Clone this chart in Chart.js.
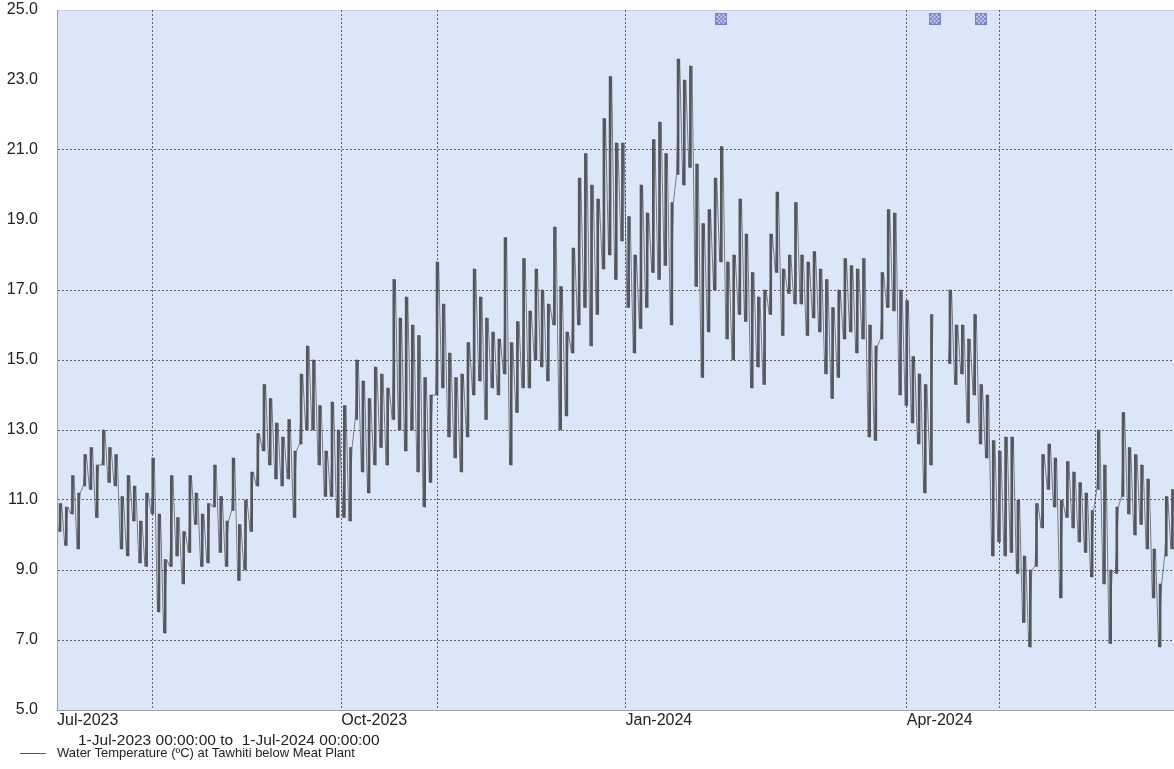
<!DOCTYPE html>
<html lang="en">
<head>
  <meta charset="UTF-8">
  <title>Water Temperature at Tawhiti below Meat Plant</title>
  <script src="https://cdn.jsdelivr.net/npm/chart.js"></script>
  <style>
    body { margin: 0; background: #fff; font-family: Arial, "Liberation Sans", sans-serif; }
    #wrap { position: relative; width: 1174px; height: 769px; overflow: hidden; }
    #chart { position: absolute; left: 0; top: 0; }
    .note { position: absolute; color: #222; white-space: pre; }
    .legline { display: inline-block; width: 26px; height: 0; border-top: 1px solid #555; vertical-align: middle; margin-right: 11px; }
  </style>
</head>
<body>
  <div id="wrap">
    <canvas id="chart" width="1174" height="769"></canvas>
    <div class="note" style="left:78px; top:731px; font-size:15.5px; line-height:18px;">1-Jul-2023 00:00:00 to  1-Jul-2024 00:00:00</div>
    <div class="note" style="left:20px; top:745px; font-size:13px; line-height:16px;"><span class="legline"></span>Water Temperature (ºC) at Tawhiti below Meat Plant</div>
  </div>

  <script>
    // days counted from 1-Jul-2023, each bin covers 2 days (low / high within it)
    const startDay = 0;
    const binDays = 2;
    const binLow = [
      10.1, 9.7, 10.6, 9.6, 11.4, 11.3, 10.5, 12.0, 11.5, 11.4,
      9.6, 9.4, 10.4, 9.2, 9.1, 10.6, 7.8, 7.2, 9.1, 9.4,
      8.6, 9.5, 10.3, 9.1, 9.2, 10.8, 9.5, 9.1, 10.7, 8.7,
      9.0, 10.1, 11.4, 12.4, 12.0, 11.6, 11.4, 11.6, 10.5, 12.6,
      13.0, 13.0, 12.0, 11.1, 11.1, 10.5, 10.5, 10.4, 13.3, 11.8,
      11.2, 12.0, 12.5, 12.0, 13.3, 13.0, 12.4, 13.0, 11.8, 10.8,
      11.5, 14.0, 14.2, 12.8, 12.2, 11.8, 12.8, 14.0, 14.4, 13.3,
      14.2, 14.0, 14.6, 12.0, 13.5, 14.2, 14.2, 15.0, 14.8, 14.4,
      16.0, 13.0, 13.4, 15.2, 16.0, 16.5, 15.4, 16.3, 17.6, 18.0,
      17.3, 18.4, 16.5, 15.2, 15.9, 16.5, 17.5, 17.3, 17.7, 16.0,
      20.3, 20.0, 20.5, 17.1, 14.5, 15.8, 17.0, 17.8, 15.6, 15.0,
      16.3, 16.1, 14.2, 14.8, 14.3, 16.3, 17.5, 15.7, 16.9, 16.6,
      16.6, 15.7, 16.2, 15.8, 14.6, 13.9, 14.5, 15.6, 15.8, 15.2,
      15.6, 12.8, 12.7, 15.6, 16.5, 16.4, 14.0, 13.7, 13.2, 12.6,
      11.2, 12.0, null, null, 14.9, 14.3, 14.6, 13.2, 14.0, 12.6,
      12.2, 9.4, 9.8, 9.4, 9.5, 8.9, 7.5, 6.8, 9.1, 10.2,
      11.3, 10.8, 8.2, 10.5, 10.2, 9.8, 9.5, 8.8, 11.3, 8.6,
      6.9, 8.9, 11.1, 10.6, 10.0, 10.3, 9.6, 8.2, 6.8, 9.4,
      9.6
    ];
    const binHigh = [
      10.9, 10.8, 11.7, 11.2, 12.3, 12.5, 12.0, 13.0, 12.5, 12.3,
      11.1, 11.7, 11.4, 10.4, 11.2, 12.2, 10.6, 9.3, 11.7, 10.5,
      10.1, 11.7, 11.2, 10.6, 10.9, 12.0, 11.1, 10.4, 12.2, 10.3,
      11.0, 11.8, 12.9, 14.3, 13.9, 13.2, 12.8, 13.3, 12.4, 14.6,
      15.4, 15.0, 13.7, 12.4, 13.8, 13.0, 13.7, 12.5, 15.0, 14.4,
      13.9, 14.8, 14.6, 14.2, 17.3, 16.2, 16.8, 16.0, 15.7, 14.5,
      14.0, 17.8, 16.6, 15.2, 14.5, 14.6, 15.5, 17.6, 16.8, 16.2,
      15.8, 15.6, 18.5, 15.5, 16.1, 17.9, 16.4, 17.6, 17.0, 16.6,
      18.8, 17.1, 15.8, 18.2, 20.2, 20.9, 20.0, 19.6, 21.9, 23.1,
      21.2, 21.2, 19.1, 18.0, 20.0, 19.2, 21.3, 21.8, 20.9, 19.5,
      23.6, 23.0, 23.4, 20.6, 18.9, 19.3, 20.2, 21.1, 17.8, 18.0,
      19.6, 18.6, 17.5, 16.8, 17.0, 18.6, 19.8, 17.6, 18.0, 19.5,
      18.0, 17.8, 18.1, 17.6, 17.3, 16.5, 17.0, 17.9, 17.7, 17.6,
      17.9, 16.0, 15.4, 17.5, 19.3, 19.2, 17.0, 16.7, 15.1, 14.6,
      14.3, 16.3, null, null, 17.0, 16.0, 16.0, 15.6, 16.3, 14.3,
      14.0, 12.7, 12.4, 12.8, 12.8, 11.0, 9.4, 9.0, 10.9, 12.3,
      12.6, 12.2, 11.0, 12.1, 11.8, 11.5, 11.2, 10.7, 13.0, 12.0,
      9.0, 10.8, 13.5, 12.5, 12.3, 12.0, 11.6, 9.6, 8.6, 11.1,
      11.3
    ];

    // comment markers along the top edge
    const markerDays = [215, 284, 299];
    const markerLevel = 24.75;

    // month starts (days from 1-Jul-2023)
    const monthTicks = [0, 31, 62, 92, 123, 153, 184, 215, 244, 275, 305, 336];
    const monthLabels = ['Jul-2023', '', '', 'Oct-2023', '', '', 'Jan-2024', '', '', 'Apr-2024', '', ''];
    const gridMonths = [31, 92, 123, 184, 275, 305, 336];
    const gridLevels = [7, 9, 11, 13, 15, 17, 21];
    const viewEndDay = 361.5;

    const trace = [];
    const ranges = [];
    binLow.forEach((lo, i) => {
      const d = startDay + i * binDays;
      trace.push({ x: d + 0.5, y: lo });
      trace.push({ x: d + 1.5, y: binHigh[i] });
      ranges.push({ x: d + 1, y: lo === null ? null : [lo, binHigh[i]] });
    });

    // little cross-hatched square used for the markers
    const mark = document.createElement('canvas');
    mark.width = 12; mark.height = 12;
    const m = mark.getContext('2d');
    m.fillStyle = '#c3c8ef';
    m.fillRect(0, 0, 12, 12);
    m.strokeStyle = '#7b82c4';
    m.lineWidth = 1;
    m.beginPath();
    for (let k = -12; k <= 12; k += 4) {
      m.moveTo(k, 0); m.lineTo(k + 12, 12);
      m.moveTo(k + 12, 0); m.lineTo(k, 12);
    }
    m.stroke();
    m.strokeRect(0.5, 0.5, 11, 11);

    const plotBg = {
      id: 'plotBg',
      beforeDraw(chart) {
        const { ctx, chartArea: a } = chart;
        ctx.save();
        ctx.fillStyle = '#dbe7f9';
        ctx.fillRect(a.left, a.top, a.right - a.left, a.bottom - a.top);
        ctx.strokeStyle = '#c8d0dc';
        ctx.beginPath();
        ctx.moveTo(a.left, a.top + 0.5);
        ctx.lineTo(a.right, a.top + 0.5);
        ctx.stroke();
        ctx.restore();
      }
    };

    const dotted = '#5f646c';
    const tickFont = { family: 'Arial', size: 16 };

    new Chart(document.getElementById('chart'), {
      type: 'bar',
      data: {
        datasets: [
          {
            type: 'bar',
            data: ranges,
            backgroundColor: '#55565c',
            borderWidth: 0,
            barThickness: 2,
            grouped: false
          },
          {
            type: 'line',
            data: trace,
            borderColor: 'rgba(50,50,56,0.6)',
            borderWidth: 1,
            pointRadius: 0,
            tension: 0,
            spanGaps: false
          },
          {
            type: 'line',
            data: markerDays.map(d => ({ x: d, y: markerLevel })),
            showLine: false,
            pointStyle: mark,
            pointRadius: 6
          }
        ]
      },
      options: {
        responsive: false,
        devicePixelRatio: 1,
        animation: false,
        layout: { autoPadding: false, padding: { top: 10, right: 0, bottom: 0, left: 0 } },
        plugins: { legend: { display: false }, tooltip: { enabled: false } },
        scales: {
          x: {
            type: 'linear',
            min: 0,
            max: viewEndDay,
            offset: false,
            afterFit: s => { s.height = 59; s.paddingLeft = 0; s.paddingRight = 0; },
            afterBuildTicks: s => { s.ticks = monthTicks.map(v => ({ value: v })); },
            ticks: {
              autoSkip: false,
              maxRotation: 0,
              align: 'start',
              padding: 1,
              color: '#222',
              font: tickFont,
              callback: v => monthLabels[monthTicks.indexOf(v)] || ''
            },
            grid: {
              offset: false,
              drawTicks: false,
              color: c => gridMonths.includes(c.tick && c.tick.value) ? dotted : 'rgba(0,0,0,0)',
              lineWidth: 1
            },
            border: { display: true, color: '#9aa0a8', dash: [2, 2] }
          },
          y: {
            min: 5,
            max: 25,
            afterFit: s => { s.width = 57; s.paddingTop = 0; s.paddingBottom = 0; },
            ticks: {
              stepSize: 2,
              padding: 19,
              color: '#222',
              font: tickFont,
              callback: v => Number(v).toFixed(1)
            },
            grid: {
              drawTicks: false,
              color: c => gridLevels.includes(c.tick && c.tick.value) ? dotted : 'rgba(0,0,0,0)',
              lineWidth: 1
            },
            border: { display: true, color: '#9aa0a8', dash: [2, 2] }
          }
        }
      },
      plugins: [plotBg]
    });
  </script>
</body>
</html>
